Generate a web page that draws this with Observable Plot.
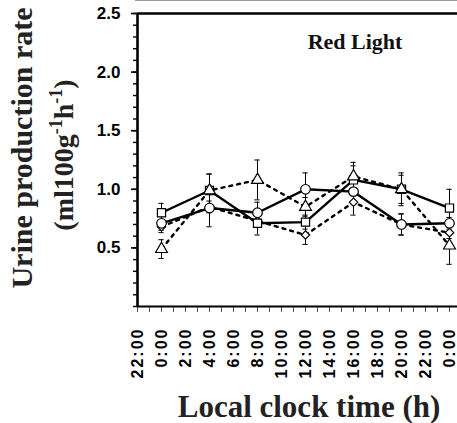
<!DOCTYPE html>
<html>
<head>
<meta charset="utf-8">
<script src="https://cdn.jsdelivr.net/npm/d3@7"></script>
<script src="https://cdn.jsdelivr.net/npm/@observablehq/plot@0.6"></script>
<style>
  html, body { margin: 0; padding: 0; background: white; }
  #wrap { position: relative; width: 457px; height: 423px; }
  #topline { position: absolute; left: 135px; top: 0; width: 322px; height: 1px; background: #9a9a9a; }
  g[aria-label="x-axis tick label"] text { letter-spacing: 2px; font-weight: bold; font-size: 16px; font-family: "Liberation Sans", Arial, sans-serif; }
  g[aria-label="y-axis tick label"] text { font-weight: bold; font-size: 17px; font-family: "Liberation Sans", Arial, sans-serif; }
</style>
</head>
<body>
<div id="wrap"><div id="topline"></div></div>
<script>
// ---- data ----
const hours = [0, 4, 8, 12, 16, 20, 24];

const squareMean   = [0.80, 0.99, 0.71, 0.72, 1.08, 1.00, 0.84];
const squareErr    = [0.08, 0.14, 0.10, 0.06, 0.12, 0.14, 0.16];
const circleMean   = [0.71, 0.84, 0.80, 1.00, 0.98, 0.70, 0.71];
const circleErr    = [0.06, 0.16, 0.09, 0.14, 0.10, 0.09, 0.05];
const triangleMean = [0.49, 0.99, 1.08, 0.85, 1.11, 1.00, 0.52];
const triangleErr  = [0.08, 0.14, 0.17, 0.08, 0.12, 0.12, 0.16];
const diamondMean  = [0.68, 0.85, 0.73, 0.61, 0.89, 0.70, 0.63];
const diamondErr   = [0.05, 0.05, 0.05, 0.08, 0.11, 0.09, 0.05];

const xTicks      = [-2, 0, 2, 4, 6, 8, 10, 12, 14, 16, 18, 20, 22, 24];
const xTickLabels = ["22:00", "0:00", "2:00", "4:00", "6:00", "8:00", "10:00", "12:00", "14:00", "16:00", "18:00", "20:00", "22:00", "0:00"];
const xMinorTicks = [-2, -1, 0, 1, 2, 3, 4, 5, 6, 7, 8, 9, 10, 11, 12, 13, 14, 15, 16, 17, 18, 19, 20, 21, 22, 23, 24];
const yTicks      = [0.5, 1.0, 1.5, 2.0, 2.5];
const yTickLabels = ["0.5", "1.0", "1.5", "2.0", "2.5"];
const yMinorTicks = [0, 0.1, 0.2, 0.3, 0.4, 0.5, 0.6, 0.7, 0.8, 0.9, 1.0, 1.1, 1.2, 1.3, 1.4, 1.5, 1.6, 1.7, 1.8, 1.9, 2.0, 2.1, 2.2, 2.3, 2.4, 2.5];

const title  = "Red Light";
const xTitle = "Local clock time (h)";
const yTitle1 = "Urine production rate";

// ---- build tables ----
const seriesDefs = [
  {mean: squareMean,   err: squareErr,   symbol: "square",   r: 4.6, dash: null},
  {mean: circleMean,   err: circleErr,   symbol: "circle",   r: 4.8, dash: null},
  {mean: triangleMean, err: triangleErr, symbol: "triangle", r: 4.4, dash: "3,5"},
  {mean: diamondMean,  err: diamondErr,  symbol: "diamond2", r: 3.8, dash: "3,5"}
];
const tables = seriesDefs.map(s => hours.map((t, i) => ({t, mean: s.mean[i], err: s.err[i]})));

const xLabelMap = new Map(xTicks.map((t, i) => [t, xTickLabels[i]]));
const yLabelMap = new Map(yTicks.map((t, i) => [t, yTickLabels[i]]));

const marks = [];
// axes
marks.push(Plot.axisY({ticks: yMinorTicks, tickSize: 4, tickFormat: () => "", strokeWidth: 1.4}));
marks.push(Plot.axisY({ticks: yTicks, tickSize: 6, tickPadding: 11, tickFormat: d => yLabelMap.get(d), strokeWidth: 1.6}));
marks.push(Plot.axisX({ticks: xMinorTicks, tickSize: 6, tickFormat: () => "", strokeWidth: 1, stroke: "#555"}));
marks.push(Plot.axisX({ticks: xTicks, tickSize: 6, tickPadding: 15, tickRotate: -90, tickFormat: d => xLabelMap.get(d), strokeWidth: 1, stroke: "#555"}));
// frame lines
marks.push(Plot.ruleX([-2], {strokeWidth: 2.6, stroke: "black"}));
marks.push(Plot.ruleY([2.5], {strokeWidth: 2.6, stroke: "black"}));
marks.push(Plot.ruleY([0], {strokeWidth: 2, stroke: "black"}));

// error bars
tables.forEach(tab => {
  marks.push(Plot.ruleX(tab, {x: "t", y1: d => d.mean - d.err, y2: d => d.mean + d.err, stroke: "black", strokeWidth: 1}));
  marks.push(Plot.ruleY(tab, {y: d => d.mean + d.err, x1: d => d.t - 0.22, x2: d => d.t + 0.22, stroke: "black", strokeWidth: 1}));
  marks.push(Plot.ruleY(tab, {y: d => d.mean - d.err, x1: d => d.t - 0.22, x2: d => d.t + 0.22, stroke: "black", strokeWidth: 1}));
});
// lines
tables.forEach((tab, k) => {
  const s = seriesDefs[k];
  marks.push(Plot.line(tab, {x: "t", y: "mean", stroke: "black", strokeWidth: 2.4, strokeDasharray: s.dash}));
});
// markers
[3, 1, 0, 2].forEach(k => {
  const s = seriesDefs[k];
  marks.push(Plot.dot(tables[k], {x: "t", y: "mean", symbol: () => s.symbol, r: s.r, fill: "white", stroke: "black", strokeWidth: 1.2}));
});

const chart = Plot.plot({
  width: 457,
  height: 423,
  marginTop: 13,
  marginBottom: 117,
  marginLeft: 137,
  marginRight: 0,
  x: {domain: [-2, 24.667], label: null},
  y: {domain: [0, 2.5], label: null},
  symbol: {domain: ["square", "circle", "triangle", "diamond2"], range: ["square", "circle", "triangle", "diamond2"]},
  style: {background: "transparent", color: "black", fontFamily: "Liberation Sans, Arial, sans-serif", overflow: "visible"},
  marks
});
chart.style.position = "absolute";
chart.style.left = "0px";
chart.style.top = "0px";
document.getElementById("wrap").appendChild(chart);

// titles
const svg = d3.select(chart);
const serif = "'Liberation Serif', 'Times New Roman', serif";
svg.append("text").attr("x", 355).attr("y", 49).attr("text-anchor", "middle")
  .attr("font-family", serif).attr("font-weight", "bold").attr("font-size", 22).attr("fill", "#111").text(title);
svg.append("text").attr("x", 309).attr("y", 417).attr("text-anchor", "middle")
  .attr("font-family", serif).attr("font-weight", "bold").attr("font-size", 31).attr("fill", "#222").text(xTitle);
svg.append("text").attr("transform", "translate(32,148) rotate(-90)").attr("text-anchor", "middle")
  .attr("font-family", serif).attr("font-weight", "bold").attr("font-size", 30).attr("fill", "#222").text(yTitle1);
const t2 = svg.append("text").attr("transform", "translate(73,155) rotate(-90)").attr("text-anchor", "middle")
  .attr("font-family", serif).attr("font-weight", "bold").attr("font-size", 28).attr("fill", "#222");
t2.append("tspan").text("(ml100g");
t2.append("tspan").attr("dy", -11).attr("font-size", 18).text("-1");
t2.append("tspan").attr("dy", 11).text("h");
t2.append("tspan").attr("dy", -11).attr("font-size", 18).text("-1");
t2.append("tspan").attr("dy", 11).text(")");
</script>
</body>
</html>
